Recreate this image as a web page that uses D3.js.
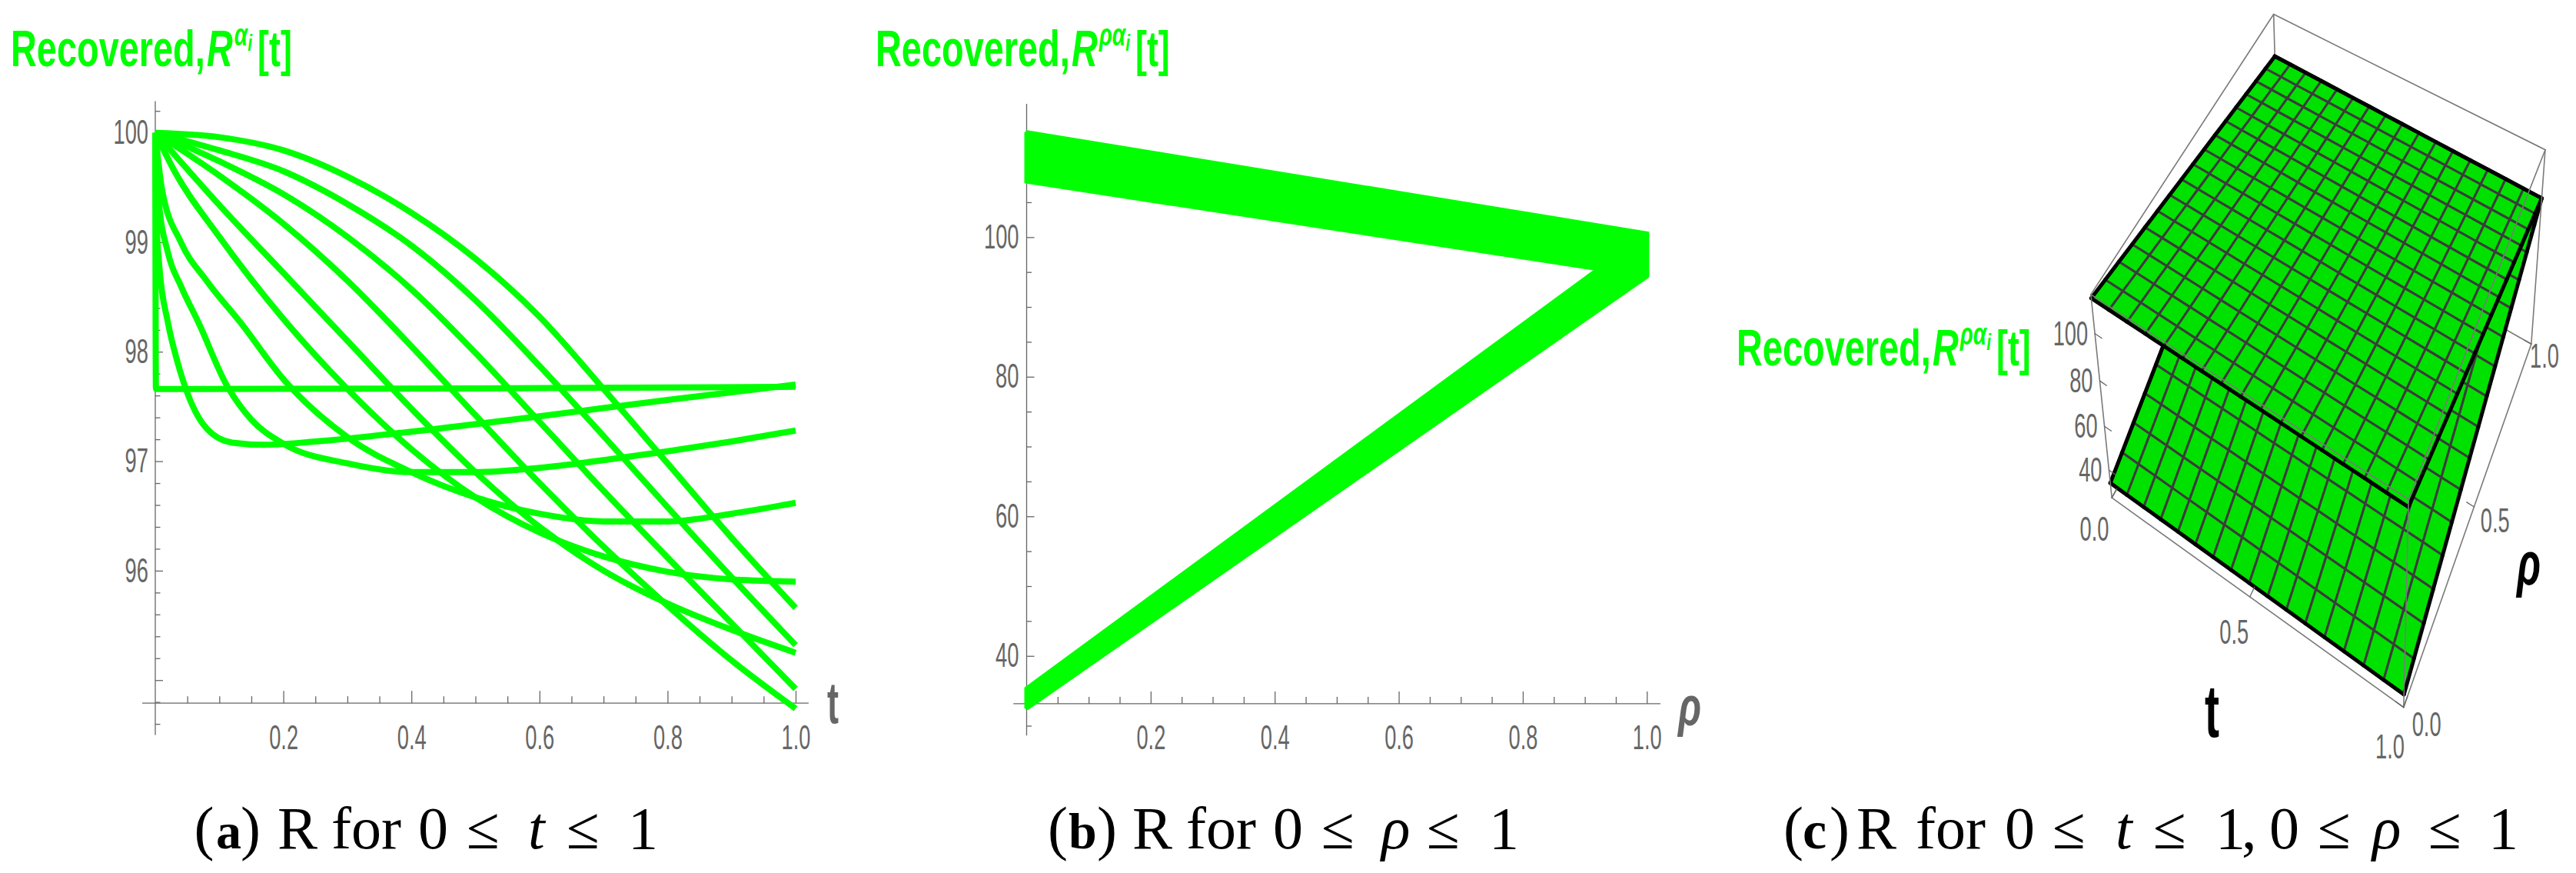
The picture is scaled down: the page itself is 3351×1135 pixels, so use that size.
<!DOCTYPE html>
<html><head><meta charset="utf-8">
<script src="https://cdn.jsdelivr.net/npm/d3@7"></script>
<style>body{margin:0;background:#fff;} svg{display:block;background:#fff;}</style>
</head><body>
<svg id="chart" width="3351" height="1135"></svg>
<script>
// ================= DATA =================
// Panel (a): R(t) for the family of fractional orders alpha_i  ([t, R] pairs)
const seriesA1  = [[0,100],[0.001,97.66],[0.5,97.665],[1,97.68]];
const seriesA2  = [[0,100],[0.001,99.3],[0.006,98.8],[0.02,98.26],[0.035,97.9],[0.055,97.55],[0.08,97.3],[0.12,97.17],[0.17,97.15],[0.25,97.18],[0.4,97.27],[0.6,97.41],[0.8,97.56],[1,97.7]];
const seriesA3  = [[0,100],[0.005,99.4],[0.02,98.9],[0.04,98.6],[0.068,98.26],[0.111,97.7],[0.15,97.38],[0.2,97.16],[0.3,96.98],[0.4,96.9],[0.5,96.9],[0.6,96.94],[0.7,97.01],[0.8,97.09],[0.9,97.18],[1,97.28]];
const seriesA4  = [[0,100],[0.01,99.5],[0.04,99.0],[0.08,98.65],[0.134,98.26],[0.2,97.75],[0.3,97.22],[0.4,96.9],[0.5,96.67],[0.6,96.52],[0.7,96.45],[0.8,96.45],[0.9,96.52],[1,96.62]];
const seriesA5  = [[0,100],[0.03,99.65],[0.1,99.05],[0.2,98.3],[0.3,97.66],[0.4,97.11],[0.5,96.67],[0.6,96.35],[0.7,96.13],[0.8,95.99],[0.9,95.92],[1,95.9]];
const seriesA6  = [[0,100],[0.1,99.34],[0.2,98.72],[0.3,98.1],[0.4,97.48],[0.5,96.9],[0.6,96.4],[0.7,96.0],[0.8,95.7],[0.9,95.46],[1,95.25]];
const seriesA7  = [[0,100],[0.1,99.61],[0.2,99.17],[0.3,98.65],[0.4,98.05],[0.5,97.42],[0.6,96.8],[0.7,96.22],[0.8,95.68],[0.9,95.18],[1,94.74]];
const seriesA8  = [[0,100],[0.1,99.74],[0.2,99.44],[0.3,99.05],[0.4,98.57],[0.5,97.99],[0.6,97.36],[0.7,96.73],[0.8,96.12],[0.9,95.52],[1,94.92]];
const seriesA9  = [[0,100],[0.1,99.84],[0.2,99.65],[0.3,99.35],[0.4,98.97],[0.5,98.47],[0.6,97.87],[0.7,97.23],[0.8,96.58],[0.9,95.94],[1,95.32]];
const seriesA10 = [[0,100],[0.1,99.96],[0.2,99.84],[0.3,99.6],[0.4,99.27],[0.5,98.85],[0.6,98.32],[0.7,97.66],[0.8,96.98],[0.9,96.3],[1,95.66]];
const panelASeries = [seriesA1,seriesA2,seriesA3,seriesA4,seriesA5,seriesA6,seriesA7,seriesA8,seriesA9,seriesA10];

const ticksAX = [0.2,0.4,0.6,0.8,1.0];
const ticksAY = [95,96,97,98,99,100];
const labelsAY = [96,97,98,99,100];

// Panel (b): straight lines in rho, one per alpha_i; value at rho=0 (upper & lower branch) and at rho=1
const bandRho      = [0, 1];
const upperStartB  = [115.0,114.2,113.4,112.6,111.9,111.1,110.3,109.5,108.8,108.0];
const lowerStartB  = [35.3,35.0,34.7,34.4,34.0,33.7,33.4,33.1,32.8,32.5];
const bandEndB     = [100.5,99.8,99.1,98.5,97.8,97.1,96.4,95.8,95.1,94.4];
const ticksBX = [0.2,0.4,0.6,0.8,1.0];
const ticksBY = [40,60,80,100];

// Panel (c): surfaces R(t, rho), corner values [t index][rho index]
const surfUpper = [[114.5, 97.0],[113.0, 95.0]];
const surfLower = [[34.0, 97.0],[33.0, 95.0]];
const ticksCZ = [40,60,80,100];
const ticksCT = [0.0,0.5,1.0];
const ticksCR = [0.0,0.5,1.0];

// ================= DRAWING =================
const svg = d3.select("#chart");
const GRAY = "#666666", GREEN = "#00ff00";
const SANS = "'Liberation Sans', Arial, sans-serif";
const SERIF = "'Liberation Serif', 'Times New Roman', serif";

function condense(sel, f){
  sel.each(function(){ const w=this.getComputedTextLength(); if(w>0){ this.setAttribute("textLength", (w*f).toFixed(1)); this.setAttribute("lengthAdjust","spacingAndGlyphs"); }});
}
function txt(g, p){
  const t = g.append("text").attr("x",p.x).attr("y",p.y).text(p.t)
    .attr("font-family", p.family||SANS).attr("font-size",p.size)
    .attr("font-weight",p.weight||"normal").attr("font-style",p.style||"normal")
    .attr("fill",p.color||"#000").attr("text-anchor",p.anchor||"start");
  if(p.w){ t.attr("textLength",p.w).attr("lengthAdjust","spacingAndGlyphs"); }
  return t;
}
// condensed label drawn with a horizontal scale transform
function txtS(g, p, sx){
  return g.append("text").attr("transform",`translate(${p.x},${p.y}) scale(${sx},1)`).text(p.t)
    .attr("font-family", p.family||SANS).attr("font-size",p.size)
    .attr("font-weight",p.weight||"normal").attr("font-style",p.style||"normal")
    .attr("fill",p.color||"#000").attr("text-anchor",p.anchor||"start");
}
function styleTickText(g){
  g.selectAll(".tick text").attr("font-family",SANS).attr("font-size",44).attr("fill",GRAY);
  condense(g.selectAll(".tick text"),0.62);
}
function panelTitle(g, x0, base, sup){
  const t = g.append("text").attr("transform",`translate(${x0},${base}) scale(0.70,1)`)
    .attr("font-family",SANS).attr("font-weight","bold").attr("font-size",67).attr("fill",GREEN);
  t.append("tspan").text("Recovered,");
  t.append("tspan").attr("dx",3).attr("font-style","italic").text("R");
  t.append("tspan").attr("dx",3).attr("dy",-27).attr("font-size",40).attr("font-style","italic").text(sup);
  t.append("tspan").attr("dy",7).attr("font-size",30).attr("font-style","italic").text("i");
  t.append("tspan").attr("dx",10).attr("dy",20).attr("font-size",64).text("[t]");
}

// ---------- Panel (a) ----------
const xA = d3.scaleLinear().domain([0,1]).range([202,1035]);
const yA = d3.scaleLinear().domain([94.5,100.29]).range([955.4,131.4]);
const gA = svg.append("g");
const axisYA = 94.79;
gA.append("line").attr("x1",xA(-0.0204)).attr("x2",xA(1.0203)).attr("y1",yA(axisYA)).attr("y2",yA(axisYA)).attr("stroke",GRAY);
gA.append("line").attr("x1",xA(0)).attr("x2",xA(0)).attr("y1",yA(100.29)).attr("y2",yA(94.5)).attr("stroke",GRAY);
const minorAX = d3.range(1,21).map(i=>i*0.05).filter(v=>Math.abs(v*5-Math.round(v*5))>1e-6);
const minorAY = d3.range(0,29).map(i=>94.6+i*0.2).filter(v=>Math.abs(v-Math.round(v))>1e-6);
const axA1 = gA.append("g").attr("transform",`translate(0,${yA(axisYA)})`).attr("color",GRAY)
  .call(d3.axisBottom(xA).tickValues(ticksAX).tickSizeInner(-16).tickSizeOuter(0).tickPadding(29).tickFormat(d3.format(".1f")));
axA1.select(".domain").remove(); styleTickText(axA1);
const axA2 = gA.append("g").attr("transform",`translate(0,${yA(axisYA)})`).attr("color",GRAY)
  .call(d3.axisBottom(xA).tickValues(minorAX).tickSize(-9).tickFormat(""));
axA2.select(".domain").remove();
const axA3 = gA.append("g").attr("transform",`translate(${xA(0)},0)`).attr("color",GRAY)
  .call(d3.axisLeft(yA).tickValues(ticksAY).tickSizeInner(-10).tickSizeOuter(0).tickPadding(9).tickFormat(d=>labelsAY.includes(d)?String(d):""));
axA3.select(".domain").remove(); styleTickText(axA3);
const axA4 = gA.append("g").attr("transform",`translate(${xA(0)},0)`).attr("color",GRAY)
  .call(d3.axisLeft(yA).tickValues(minorAY).tickSize(-6.5).tickFormat(""));
axA4.select(".domain").remove();
gA.selectAll("line").attr("stroke-width",1.3);

const lineA = d3.line().x(d=>xA(d[0])).y(d=>yA(d[1])).curve(d3.curveMonotoneX);
gA.append("g").selectAll("path").data(panelASeries).join("path")
  .attr("d",lineA).attr("fill","none").attr("stroke",GREEN).attr("stroke-width",8).attr("stroke-linejoin","round");

txt(gA,{t:"t",x:1076,y:940,size:76,weight:"bold",color:GRAY,w:15});
panelTitle(gA, 14, 86, "α");

// ---------- Panel (b) ----------
const xB = d3.scaleLinear().domain([0,1]).range([1335.5,2142.3]);
const yB = d3.scaleLinear().domain([28.6,119.1]).range([956.2,135.0]);
const gB = svg.append("g");
const axisYB = 33.15;
gB.append("line").attr("x1",xB(-0.0213)).attr("x2",xB(1.0219)).attr("y1",yB(axisYB)).attr("y2",yB(axisYB)).attr("stroke",GRAY);
gB.append("line").attr("x1",xB(0)).attr("x2",xB(0)).attr("y1",yB(119.1)).attr("y2",yB(28.6)).attr("stroke",GRAY);
const minorBY = d3.range(30,120,5).filter(v=>!ticksBY.includes(v));
const axB1 = gB.append("g").attr("transform",`translate(0,${yB(axisYB)})`).attr("color",GRAY)
  .call(d3.axisBottom(xB).tickValues(ticksBX).tickSizeInner(-16).tickSizeOuter(0).tickPadding(28).tickFormat(d3.format(".1f")));
axB1.select(".domain").remove(); styleTickText(axB1);
const axB2 = gB.append("g").attr("transform",`translate(0,${yB(axisYB)})`).attr("color",GRAY)
  .call(d3.axisBottom(xB).tickValues(minorAX).tickSize(-9).tickFormat(""));
axB2.select(".domain").remove();
const axB3 = gB.append("g").attr("transform",`translate(${xB(0)},0)`).attr("color",GRAY)
  .call(d3.axisLeft(yB).tickValues(ticksBY).tickSizeInner(-10).tickSizeOuter(0).tickPadding(10));
axB3.select(".domain").remove(); styleTickText(axB3);
const axB4 = gB.append("g").attr("transform",`translate(${xB(0)},0)`).attr("color",GRAY)
  .call(d3.axisLeft(yB).tickValues(minorBY).tickSize(-6.5).tickFormat(""));
axB4.select(".domain").remove();
gB.selectAll("line").attr("stroke-width",1.3);

function bandRows(starts){
  return bandRho.map((r,k)=>{ const vals = starts.map((s,i)=> k===0 ? s : bandEndB[i]); return {r, lo:d3.min(vals), hi:d3.max(vals)}; });
}
const areaB = d3.area().x(d=>xB(d.r)).y0(d=>yB(d.lo)).y1(d=>yB(d.hi));
[upperStartB, lowerStartB].forEach(starts=>{
  gB.append("path").attr("d",areaB(bandRows(starts))).attr("fill",GREEN).attr("stroke",GREEN)
    .attr("stroke-width",6).attr("stroke-linejoin","miter").attr("stroke-miterlimit",1.5);
  starts.forEach((s,i)=>{
    gB.append("line").attr("x1",xB(0)).attr("y1",yB(s)).attr("x2",xB(1)).attr("y2",yB(bandEndB[i]))
      .attr("stroke",GREEN).attr("stroke-width",3);
  });
});
txt(gB,{t:"ρ",x:2183,y:943,size:72,weight:"bold",style:"italic",color:GRAY,w:30});
panelTitle(gB, 1139, 86, "ρα");

// ---------- Panel (c) : 3-D surface ----------
const zMin = 27, zMax = 116;
const zN = d3.scaleLinear().domain([zMin,zMax]).range([0,1]);
// screen position of box corners used to fit the perspective camera: [t, rho, zNorm, sx, sy]
const boxCorr = [
  [0,0,0, 2744.7,647.3],[1,0,0, 3126.4,918.4],[1,1,0, 3293.8,446.4],[0,1,0, 2966,263],
  [0,0,1, 2722.6,381.4],[1,1,1, 3309.9,194.5],[0,1,1, 2956.1,17.9],[1,0,1, 3133.7,652]
];
function gauss(A,b){
  const n=b.length; const M=A.map((r,i)=>r.concat([b[i]]));
  for(let c=0;c<n;c++){
    let p=c; for(let r=c+1;r<n;r++) if(Math.abs(M[r][c])>Math.abs(M[p][c])) p=r;
    [M[c],M[p]]=[M[p],M[c]];
    for(let r=0;r<n;r++){ if(r===c) continue; const f=M[r][c]/M[c][c]; for(let k=c;k<=n;k++) M[r][k]-=f*M[c][k]; }
  }
  return M.map((r,i)=>r[n]/r[i]);
}
function fitCamera(corr){
  const cu=3000, cv=450, s=400, N=11;
  const AtA=Array.from({length:N},()=>new Array(N).fill(0)), Atb=new Array(N).fill(0);
  const add=(row,rhs)=>{ for(let i=0;i<N;i++){ Atb[i]+=row[i]*rhs; for(let j=0;j<N;j++) AtA[i][j]+=row[i]*row[j]; } };
  corr.forEach(([x,y,z,u,v])=>{ const uu=(u-cu)/s, vv=(v-cv)/s;
    add([x,y,z,1,0,0,0,0,-uu*x,-uu*y,-uu*z],uu);
    add([0,0,0,0,x,y,z,1,-vv*x,-vv*y,-vv*z],vv); });
  const p=gauss(AtA,Atb);
  return (x,y,z)=>{ const w=p[8]*x+p[9]*y+p[10]*z+1;
    return [(p[0]*x+p[1]*y+p[2]*z+p[3])/w*s+cu, (p[4]*x+p[5]*y+p[6]*z+p[7])/w*s+cv, w]; };
}
const cam = fitCamera(boxCorr);
const P = (t,r,R)=>cam(t,r,zN(R));
const Pn = (t,r,z)=>cam(t,r,z);
const gC = svg.append("g");
const BOX = "#7a7a7a";
function seg(g,a,b,color,wd){ g.append("line").attr("x1",a[0]).attr("y1",a[1]).attr("x2",b[0]).attr("y2",b[1]).attr("stroke",color).attr("stroke-width",wd).attr("stroke-linecap","round"); }
const V = {A:Pn(0,0,0),B:Pn(1,0,0),C:Pn(1,1,0),D:Pn(0,1,0),A2:Pn(0,0,1),B2:Pn(1,0,1),C2:Pn(1,1,1),D2:Pn(0,1,1)};
[["A","D"],["D","C"],["D","D2"]].forEach(([a,b])=>seg(gC,V[a],V[b],BOX,1.6));

function bilinear(S,t,r){ return S[0][0]*(1-t)*(1-r)+S[1][0]*t*(1-r)+S[0][1]*(1-t)*r+S[1][1]*t*r; }
const meshN = 16;
const items = [];
[surfLower, surfUpper].forEach((S,si)=>{
  for(let i=0;i<meshN;i++) for(let j=0;j<meshN;j++){
    const t0=i/meshN,t1=(i+1)/meshN,r0=j/meshN,r1=(j+1)/meshN;
    const c=[[t0,r0],[t1,r0],[t1,r1],[t0,r1]].map(([t,r])=>P(t,r,bilinear(S,t,r)));
    const edges=[];
    if(j===0) edges.push([c[0],c[1]]);
    if(j===meshN-1) edges.push([c[2],c[3]]);
    if(i===0) edges.push([c[3],c[0]]);
    if(i===meshN-1) edges.push([c[1],c[2]]);
    items.push({c, depth:d3.mean(c,d=>d[2]), edges, si});
  }
});
items.sort((a,b)=>b.depth-a.depth);
const gS = gC.append("g");
items.forEach(it=>{
  gS.append("polygon").attr("points",it.c.map(d=>d[0].toFixed(2)+","+d[1].toFixed(2)).join(" "))
    .attr("fill","#00e100").attr("stroke","#3c3c3c").attr("stroke-width",3).attr("stroke-linejoin","round");
  it.edges.forEach(e=>seg(gS,e[0],e[1],"#000",5));
});
[["A","B"],["B","C"],["C","C2"],["C2","D2"],["D2","A2"],["A2","A"],["A2","B2"],["B2","C2"],["B","B2"]].forEach(([a,b])=>seg(gC,V[a],V[b],BOX,1.6));

const gT = gC.append("g");
const SX = 0.62;
ticksCZ.forEach(z=>{ const a=P(0,0,z), b=P(0.025,0,z); seg(gT,a,b,GRAY,1.3);
  txtS(gT,{t:String(z),x:a[0]-9,y:a[1]+15,size:44,color:GRAY,anchor:"end"},SX); });
ticksCT.forEach(t=>{ const a=Pn(t,0,0), b=Pn(t,0.025,0), l=Pn(t,-0.085,0); seg(gT,a,b,GRAY,1.3);
  txtS(gT,{t:t.toFixed(1),x:l[0],y:l[1]+16,size:44,color:GRAY,anchor:"middle"},SX); });
ticksCR.forEach(r=>{ const a=Pn(1,r,0), b=Pn(0.975,r,0), l=Pn(1.07,r,0); seg(gT,a,b,GRAY,1.3);
  txtS(gT,{t:r.toFixed(1),x:Math.min(l[0],3310),y:l[1]+16,size:44,color:GRAY,anchor:"middle"},SX); });
txt(gC,{t:"t",x:2868,y:958,size:96,weight:"bold",color:"#000",w:19});
txt(gC,{t:"ρ",x:3274,y:760,size:80,weight:"bold",style:"italic",color:"#000",w:31});
panelTitle(gC, 2259, 475, "ρα");

// ---------- captions (one text element each, pieces placed as tspans) ----------
const gCap = svg.append("g");
const capY = 1103;
function caption(parts){
  const t = gCap.append("text").attr("y",capY).attr("font-family",SERIF).attr("font-size",78).attr("fill","#000");
  parts.forEach(p=>{
    const s = t.append("tspan").attr("x",p.x).attr("y",capY).text(p.t);
    if(p.weight) s.attr("font-weight",p.weight);
    if(p.style) s.attr("font-style",p.style);
    if(p.size) s.attr("font-size",p.size);
  });
}
caption([{t:"(",x:252.5},{t:"a",x:281,weight:"bold",size:66},{t:")",x:313},{t:"R",x:361},{t:"for",x:431},
  {t:"0",x:544},{t:"≤",x:607},{t:"t",x:687,style:"italic"},{t:"≤",x:737},{t:"1",x:817}]);
caption([{t:"(",x:1363},{t:"b",x:1390,weight:"bold",size:66},{t:")",x:1427},{t:"R",x:1473},{t:"for",x:1543},
  {t:"0",x:1656},{t:"≤",x:1719},{t:"ρ",x:1797,style:"italic"},{t:"≤",x:1856},{t:"1",x:1937}]);
caption([{t:"(",x:2320},{t:"c",x:2345,weight:"bold",size:70},{t:")",x:2380},{t:"R",x:2415},{t:"for",x:2492},
  {t:"0",x:2608},{t:"≤",x:2670},{t:"t",x:2752,style:"italic"},{t:"≤",x:2801},{t:"1",x:2882},{t:",",x:2916},
  {t:"0",x:2952},{t:"≤",x:3015},{t:"ρ",x:3086,style:"italic"},{t:"≤",x:3159},{t:"1",x:3237}]);
</script>
</body></html>
